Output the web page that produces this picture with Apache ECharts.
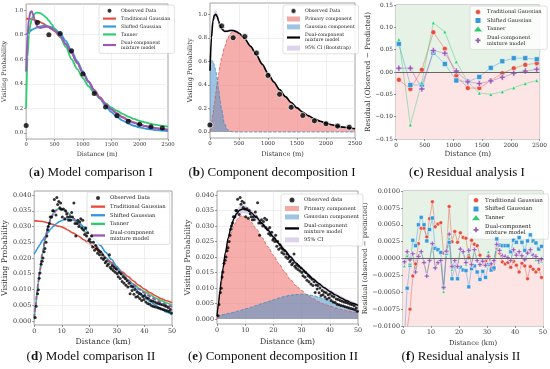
<!DOCTYPE html>
<html><head><meta charset="utf-8">
<script src="https://cdn.jsdelivr.net/npm/echarts@6/dist/echarts.min.js"></script>
<style>html,body{margin:0;padding:0;background:#fff}#c{width:550px;height:369px}</style>
</head><body><div id="c"></div>
<script>
// ---------- DATA ----------
const xTicksI = [0, 500, 1000, 1500, 2000, 2500];
const xTicksII = [0, 10, 20, 30, 40, 50];
const yTicksProbI = [0, 0.2, 0.4, 0.6, 0.8, 1.0];
const yTicksResI = [-0.15, -0.10, -0.05, 0, 0.05, 0.10, 0.15];
const yTicksProbII = [0, 0.005, 0.010, 0.015, 0.020, 0.025, 0.030, 0.035, 0.040];
const yTicksResII = [-0.01, -0.0075, -0.005, -0.0025, 0, 0.0025, 0.005, 0.0075, 0.01];

// Panel a/b observed
const obsDistI = [0, 200, 400, 600, 800, 1000, 1200, 1400, 1600, 1800, 2000, 2200, 2400];
const obsProbI = [0.06, 0.90, 0.80, 0.81, 0.67, 0.48, 0.32, 0.21, 0.14, 0.095, 0.07, 0.05, 0.04];

// Panel a/b curves
const cxI = [0,25,50,75,100,125,150,175,200,250,300,350,400,450,500,600,700,800,900,1000,1100,1200,1300,1400,1500,1600,1700,1800,1900,2000,2100,2200,2300,2400,2500];
const tgI = [0.930,0.930,0.929,0.928,0.926,0.923,0.920,0.916,0.912,0.902,0.890,0.876,0.860,0.845,0.830,0.780,0.720,0.650,0.570,0.490,0.420,0.350,0.290,0.240,0.195,0.160,0.130,0.105,0.085,0.068,0.055,0.045,0.037,0.030,0.025];
const sgI = [0.800,0.810,0.820,0.830,0.840,0.845,0.850,0.855,0.860,0.868,0.872,0.872,0.868,0.860,0.848,0.810,0.750,0.665,0.585,0.500,0.420,0.345,0.280,0.220,0.170,0.130,0.100,0.076,0.058,0.045,0.035,0.028,0.022,0.018,0.015];
const taI = [0.20,0.62,0.80,0.88,0.93,0.955,0.970,0.978,0.980,0.975,0.960,0.940,0.915,0.885,0.850,0.780,0.700,0.600,0.520,0.445,0.380,0.325,0.280,0.240,0.207,0.180,0.155,0.133,0.114,0.098,0.085,0.074,0.065,0.057,0.050];
const dmI = [0.50,0.80,0.93,0.985,0.990,0.960,0.920,0.885,0.865,0.855,0.860,0.865,0.862,0.850,0.835,0.790,0.725,0.650,0.570,0.490,0.415,0.345,0.285,0.235,0.190,0.155,0.125,0.100,0.082,0.067,0.055,0.045,0.037,0.031,0.026];
const mixI = [0.52,0.80,0.94,0.99,1.00,0.98,0.94,0.90,0.875,0.855,0.855,0.862,0.862,0.853,0.838,0.790,0.727,0.653,0.575,0.497,0.425,0.360,0.300,0.250,0.205,0.168,0.137,0.112,0.091,0.074,0.061,0.050,0.041,0.034,0.028];
const primI = [0,0.07,0.15,0.24,0.33,0.42,0.50,0.57,0.63,0.72,0.79,0.835,0.855,0.850,0.836,0.790,0.727,0.653,0.575,0.497,0.425,0.360,0.300,0.250,0.205,0.168,0.137,0.112,0.091,0.074,0.061,0.050,0.041,0.034,0.028];
const gsI = [0.60,0.605,0.60,0.57,0.52,0.45,0.36,0.27,0.19,0.07,0.02,0.005,0,0,0,0,0,0,0,0,0,0,0,0,0,0,0,0,0,0,0,0,0,0,0];
const ciHalfI = [0.03,0.03,0.03,0.03,0.035,0.03,0.025,0.02,0.015,0.012,0.01,0.01,0.01,0.01,0.01,0.01,0.01,0.01,0.01,0.01,0.009,0.009,0.008,0.008,0.007,0.007,0.006,0.006,0.005,0.005,0.005,0.004,0.004,0.004,0.004];

// Panel c residuals
const resDistI = [50, 250, 450, 650, 850, 1050, 1250, 1450, 1650, 1850, 2050, 2250, 2450];
const resTGI = [-0.0175,-0.038,0.005,0.089,0.052,-0.008,-0.036,-0.036,-0.019,-0.003,0.0085,0.016,0.0197];
const resSGI = [0.063,-0.029,-0.029,0.0435,0.018,-0.019,-0.022,-0.011,0.0093,0.024,0.031,0.031,0.0286];
const resTaI = [0.073,-0.118,-0.023,0.110,0.090,0.023,-0.022,-0.047,-0.050,-0.044,-0.035,-0.026,-0.019];
const resDMI = [0.0086,0.0086,-0.038,0.048,0.042,0.002,-0.022,-0.026,-0.020,-0.012,-0.003,0.002,0.006];

// Panel d/e observed
const obsKmII = [0.36,0.7,1.2,1.5,1.8,2.1,2.5,2.9,3.2,3.6,3.9,4.3,4.6,4.9,5.1,5.5,5.8,6.3,6.7,7.0,7.3,7.9,8.2,8.5,8.9,9.3,9.6,9.9,10.2,10.6,11.1,11.4,11.8,12.1,12.5,12.9,13.2,13.6,13.9,14.4,14.8,15.1,15.5,15.8,16.2,16.5,16.9,17.3,17.6,18.0,18.3,18.7,19.0,19.4,19.8,20.1,20.5,20.8,21.2,21.5,21.9,22.3,22.6,23.0,23.3,23.7,24.0,24.4,24.8,25.1,25.5,25.8,26.2,26.5,26.9,27.3,27.6,28.0,28.3,28.7,29.0,29.4,29.8,30.1,30.5,30.8,31.2,31.5,31.9,32.3,32.6,33.0,33.3,33.7,34.0,34.4,34.8,35.1,35.5,35.8,36.2,36.5,36.9,37.3,37.6,38.0,38.3,38.7,39.0,39.4,39.8,40.1,40.5,40.8,41.2,41.5,41.9,42.3,42.6,43.0,43.3,43.7,44.0,44.4,44.8,45.1,45.5,45.8,46.2,46.5,46.9,47.3,47.6,48.0,48.3,48.7,49.0,49.4,49.8];
const obsProbII = [0.0011,0.0047,0.0086,0.0099,0.0136,0.0152,0.018,0.019,0.020,0.022,0.023,0.025,0.027,0.029,0.030,0.031,0.033,0.033,0.035,0.035,0.0386,0.0337,0.0392,0.037,0.038,0.036,0.0375,0.0355,0.033,0.0356,0.0325,0.035,0.034,0.033,0.032,0.033,0.032,0.0345,0.033,0.0375,0.031,0.027,0.031,0.032,0.030,0.0315,0.0325,0.0295,0.032,0.029,0.0275,0.0295,0.027,0.028,0.0255,0.026,0.025,0.027,0.0235,0.025,0.0225,0.024,0.023,0.0215,0.0225,0.021,0.022,0.020,0.021,0.0195,0.020,0.0185,0.019,0.0175,0.018,0.021,0.017,0.0165,0.0175,0.016,0.017,0.0155,0.0165,0.015,0.014,0.0155,0.0135,0.015,0.0125,0.014,0.012,0.0135,0.0113,0.0128,0.0108,0.012,0.0086,0.011,0.0097,0.0108,0.0085,0.010,0.0076,0.0092,0.0078,0.0087,0.0071,0.0085,0.0065,0.0078,0.0068,0.0081,0.006,0.0074,0.0055,0.0071,0.0053,0.0065,0.0048,0.0063,0.0046,0.006,0.0044,0.0057,0.0042,0.0055,0.004,0.0053,0.0038,0.0051,0.0036,0.0048,0.0034,0.0046,0.0032,0.0043,0.003,0.0036,0.0025];

// Panel d/e curves
const cxII = [0,0.5,1,1.5,2,3,4,5,6,7,8,9,10,11,12,14,16,18,20,22,24,26,28,30,32,34,36,38,40,42,44,46,48,50];
const tgII = [0.0318,0.0318,0.0318,0.0317,0.0317,0.0316,0.0314,0.0312,0.0309,0.0306,0.0303,0.0301,0.0299,0.0295,0.0290,0.0280,0.0270,0.0258,0.0246,0.0232,0.0217,0.0201,0.0186,0.0170,0.0155,0.0141,0.0127,0.0113,0.0101,0.0090,0.0080,0.0071,0.0064,0.0058];
const sgII = [0.0212,0.0220,0.0228,0.0235,0.0242,0.0256,0.0269,0.0281,0.0292,0.0301,0.0309,0.0315,0.0319,0.0322,0.0323,0.0321,0.0314,0.0299,0.0280,0.0260,0.0240,0.0218,0.0196,0.0173,0.0150,0.0129,0.0110,0.0092,0.0076,0.0062,0.0050,0.0038,0.0028,0.0020];
const taII = [0.0005,0.0045,0.0085,0.0122,0.0156,0.0214,0.0262,0.0298,0.0325,0.0343,0.0353,0.0357,0.0356,0.0352,0.0345,0.0328,0.0308,0.0286,0.0264,0.0242,0.0221,0.0200,0.0181,0.0163,0.0146,0.0131,0.0117,0.0104,0.0093,0.0083,0.0073,0.0065,0.0057,0.0050];
const dmII = [0.0010,0.0048,0.0088,0.0125,0.0158,0.0215,0.0262,0.0297,0.0324,0.0341,0.0351,0.0355,0.0354,0.0350,0.0344,0.0328,0.0308,0.0287,0.0265,0.0243,0.0222,0.0201,0.0181,0.0163,0.0146,0.0130,0.0115,0.0101,0.0089,0.0078,0.0068,0.0059,0.0051,0.0044];
const gsII = [0.0010,0.0011,0.0012,0.0013,0.0014,0.0016,0.0018,0.0020,0.0022,0.0025,0.0027,0.0030,0.0033,0.0035,0.0038,0.0044,0.0050,0.0056,0.0062,0.0068,0.0073,0.0077,0.0079,0.0080,0.0079,0.0076,0.0071,0.0065,0.0058,0.0051,0.0044,0.0037,0.0030,0.0024];
const primII = [0.0000,0.0037,0.0076,0.0112,0.0144,0.0199,0.0244,0.0277,0.0302,0.0320,0.0330,0.0333,0.0330,0.0323,0.0314,0.0290,0.0262,0.0234,0.0206,0.0178,0.0152,0.0128,0.0108,0.0092,0.0078,0.0066,0.0056,0.0048,0.0042,0.0036,0.0031,0.0027,0.0023,0.0020];
const ciHalfII = [0.0003,0.0004,0.0005,0.0006,0.0007,0.0008,0.0009,0.0010,0.0011,0.0012,0.0013,0.0013,0.0012,0.0011,0.0010,0.0009,0.0008,0.0008,0.0007,0.0007,0.0007,0.0007,0.0006,0.0006,0.0006,0.0006,0.0006,0.0006,0.0006,0.0006,0.0006,0.0006,0.0006,0.0006];

// Panel f residuals
const resKmII = [0.5,1.5,2.5,3.5,4.5,5.5,6.5,7.5,8.5,9.5,10.5,11.5,12.5,13.5,14.5,15.5,16.5,17.5,18.5,19.5,20.5,21.5,22.5,23.5,24.5,25.5,26.5,27.5,28.5,29.5,30.5,31.5,32.5,33.5,34.5,35.5,36.5,37.5,38.5,39.5,40.5,41.5,42.5,43.5,44.5,45.5,46.5,47.5,48.5,49.5];
const resTGII = [-0.0130,-0.0104,-0.0075,-0.0026,-0.0008,0.0022,0.0045,0.0045,0.0032,0.0059,0.0084,0.0047,0.0051,0.0053,0.0008,0.0008,0.0077,0.0025,0.0040,0.0024,0.0038,0.0031,0.0030,0.0001,0.0027,0.0021,0.0019,0.0005,-0.0008,-0.0004,0.0004,-0.0012,-0.0016,0.0014,0.0008,-0.0005,-0.0008,-0.0006,-0.0013,-0.0004,-0.0010,-0.0020,-0.0007,-0.0011,-0.0030,-0.0012,-0.0016,-0.0020,-0.0016,-0.0028];
const resSGII = [-0.0120,-0.0044,-0.0010,0.0027,0.0019,0.0050,0.0061,0.0050,0.0026,0.0043,0.0060,0.0015,0.0013,0.0009,-0.0043,0.0008,0.0024,-0.0030,-0.0012,-0.0030,-0.0013,-0.0017,-0.0018,-0.0042,-0.0015,-0.0011,-0.0020,-0.0031,-0.0019,-0.0028,-0.0009,-0.0017,-0.0014,0.0029,0.0020,0.0019,0.0019,0.0019,0.0010,0.0027,0.0024,0.0031,0.0024,0.0012,0.0026,0.0035,0.0026,0.0023,0.0014,0.0018];
const resTaII = [-0.0011,0.0004,-0.0008,0.0005,-0.0020,0.0003,0.0011,-0.0006,-0.0024,-0.0003,0.0020,-0.0014,-0.0005,-0.0002,-0.0049,0.0010,0.0030,-0.0016,-0.0004,-0.0013,0.0012,0.0009,-0.0009,0.0010,-0.0010,0.0011,-0.0004,-0.0010,-0.0005,-0.0011,0.0010,-0.0005,-0.0001,0.0015,0.0011,0.0006,0.0004,0.0002,-0.0001,0.0014,0.0004,0.0006,0.0002,-0.0002,0.0008,0.0010,0.0002,-0.0002,-0.0006,-0.0004];
const resDMII = [-0.0005,0.0010,-0.0002,0.0007,-0.0020,0.0003,0.0010,-0.0006,-0.0026,-0.0003,0.0022,-0.0014,-0.0006,-0.0003,-0.0043,0.0011,0.0036,-0.0012,-0.0003,-0.0012,0.0014,0.0010,-0.0006,0.0012,-0.0009,0.0013,-0.0003,-0.0009,-0.0004,-0.0010,0.0003,-0.0008,-0.0003,0.0021,0.0012,0.0004,0.0003,0.0001,-0.0003,0.0013,0.0005,0.0010,0.0004,-0.0002,0.0008,0.0013,0.0005,0.0003,-0.0003,-0.0001];

const captions = [
  ['a', 'Model comparison I'], ['b', 'Component decomposition I'], ['c', 'Residual analysis I'],
  ['d', 'Model comparison II'], ['e', 'Component decomposition II'], ['f', 'Residual analysis II']
];

// ---------- LAYOUT / STYLE ----------
const SERIF = 'DejaVu Serif';
const CAP = 'Liberation Serif';
const COL = {tg:'#e74c3c', sg:'#3498db', ta:'#2ecc71', dm:'#9b59b6'};
const PLUS = 'path://M3,0H6V3H9V6H6V9H3V6H0V3H3Z';
const LINE_ICON = 'path://M0,0H24V4H0Z';
const zip = (xs, ys) => xs.map((x, i) => [x, ys[i]]);

const L = [
  {left:25, top:4, width:143, height:135, tick:5.3, nm:6.3, capX:91, capY:166,
   x:[0,2500,500,xTicksI,'Distance (m)',9], y:[-0.05,1.05,0.2,yTicksProbI,1,'Visiting Probability',16]},
  {left:210, top:3, width:145, height:135, tick:5.5, nm:6.6, capX:272, capY:166,
   x:[0,2500,500,xTicksI,'Distance (m)',9], y:[-0.051,1.095,0.2,yTicksProbI,1,'Visiting Probability',13]},
  {left:396, top:5, width:146, height:134, tick:5.8, nm:7.2, capX:467, capY:166,
   x:[0,2500,500,xTicksI,'Distance (m)',8], y:[-0.15,0.15,0.05,yTicksResI,2,'Residual (Observed \u2212 Predicted)',21]},
  {left:32, top:191, width:140, height:134, tick:6.4, nm:7.8, capX:91, capY:350,
   x:[0,50,10,xTicksII,'Distance (km)',9], y:[-0.0013,0.0413,0.005,yTicksProbII,3,'Visiting Probability',19]},
  {left:217, top:191, width:141, height:133, tick:6.4, nm:7.8, capX:273, capY:350,
   x:[0,50,10,xTicksII,'Distance (km)',10], y:[-0.0016,0.0413,0.005,yTicksProbII,3,'Visiting Probability',19]},
  {left:403, top:191, width:141, height:135, tick:6.4, nm:6.8, capX:461, capY:350,
   x:[0,50,10,xTicksII,'Distance (km)',10], y:[-0.01,0.01,0.0025,yTicksResII,4,'Residual (observed \u2212 predicted)',28]}
];

const grids = L.map(p => ({left:p.left, top:p.top, width:p.width, height:p.height, show:true,
  borderColor:'#8c8c8c', borderWidth:0.8, backgroundColor:'#fff', containLabel:false}));

const fmt = (v, d) => { let s = (Math.abs(v) < 1e-12 ? 0 : v).toFixed(d); return s.replace('-', '\u2212'); };

const xAxes = L.map((p, i) => ({
  type:'value', gridIndex:i, min:p.x[0], max:p.x[1], minInterval:p.x[2], maxInterval:p.x[2],
  name:p.x[4], nameLocation:'middle', nameGap:p.x[5] + p.nm * 0.5,
  nameTextStyle:{fontFamily:SERIF, fontSize:p.nm, color:'#333'},
  axisLine:{show:false, onZero:false},
  axisTick:{show:true, length:2, customValues:p.x[3], lineStyle:{color:'#555', width:0.6}},
  axisLabel:{fontFamily:SERIF, fontSize:p.tick, color:'#333', margin:3, customValues:p.x[3],
             formatter: v => String(Math.round(v))},
  splitLine:{show:true, showMinLine:false, showMaxLine:false, lineStyle:{color:'#e6e6e6', width:0.6}}
}));
const yAxes = L.map((p, i) => ({
  type:'value', gridIndex:i, min:p.y[0], max:p.y[1], minInterval:p.y[2], maxInterval:p.y[2],
  name:p.y[5], nameLocation:'middle', nameRotate:90, nameGap:p.y[6] + p.nm * 0.5,
  nameTextStyle:{fontFamily:SERIF, fontSize:p.nm, color:'#333'},
  axisLine:{show:false},
  axisTick:{show:true, length:2, customValues:p.y[3], lineStyle:{color:'#555', width:0.6}},
  axisLabel:{fontFamily:SERIF, fontSize:p.tick, color:'#333', margin:3, customValues:p.y[3],
             formatter: v => fmt(v, p.y[4])},
  splitLine:{show:true, showMinLine:false, showMaxLine:false, lineStyle:{color:'#e6e6e6', width:0.6}}
}));

const titles = captions.map((c, i) => ({
  text:'{p|(}{b|' + c[0] + '}{p|) ' + c[1] + '}', left:L[i].capX, top:L[i].capY, textAlign:'center', padding:0,
  textStyle:{fontWeight:'normal', rich:{p:{fontFamily:CAP, fontSize:13, fontWeight:'normal', color:'#111'},
    b:{fontFamily:CAP, fontSize:13, fontWeight:'bold', color:'#111'}}}
}));

const series = [];
const ax = i => ({xAxisIndex:i, yAxisIndex:i});
function curve(i, name, xs, ys, color, width, extra) {
  series.push(Object.assign({type:'line', name, ...ax(i), data:zip(xs, ys), symbol:'none', smooth:0.3,
    smoothMonotone:'x', lineStyle:{color, width}, itemStyle:{color}, z:3}, extra || {}));
}
function scatter(i, name, xs, ys, size, border) {
  series.push({type:'scatter', name, ...ax(i), data:zip(xs, ys), symbol:'circle', symbolSize:size,
    itemStyle:{color:'#000', borderColor:'#fff', borderWidth:border}, z:6});
}
function resid(i, name, xs, ys, color, symbol, size) {
  series.push({type:'line', name, ...ax(i), data:zip(xs, ys), symbol, symbolSize:size, showSymbol:true,
    lineStyle:{color, width:0.8, opacity:0.55}, itemStyle:{color, borderColor:'#fff', borderWidth:0.5}, z:4});
}
function shade(i, ymin, ymax) {
  series.push({type:'line', ...ax(i), data:[], symbol:'none', silent:true, z:1,
    markArea:{silent:true, data:[
      [{yAxis:0, itemStyle:{color:'#e5f2e5'}}, {yAxis:ymax}],
      [{yAxis:ymin, itemStyle:{color:'#fde5e5'}}, {yAxis:0}]]},
    markLine:{silent:true, symbol:'none', label:{show:false},
      lineStyle:{color:'#666', width:1, type:'solid'}, data:[{yAxis:0}]}});
}
// confidence band drawn as a polygon through the axis scales
function band(i, name, xs, mid, half, color) {
  series.push({type:'custom', name, ...ax(i), data:[[xs[0], mid[0]]], z:2, silent:true,
    itemStyle:{color},
    renderItem: (params, api) => {
      const up = xs.map((x, k) => api.coord([x, mid[k] + half[k]]));
      const lo = xs.map((x, k) => api.coord([x, mid[k] - half[k]])).reverse();
      return {type:'polygon', shape:{points:up.concat(lo)}, style:{fill:color}};
    }});
}
function compArea(i, name, xs, ys, fill, edge) {
  series.push({type:'line', name, ...ax(i), data:zip(xs, ys), symbol:'none', smooth:0.3, smoothMonotone:'x',
    lineStyle:{color:edge, width:0.8, type:'dashed'}, areaStyle:{color:fill, opacity:1}, itemStyle:{color:edge}, z:2});
}

// a
curve(0, 'Traditional Gaussian', cxI, tgI, COL.tg, 1.8);
curve(0, 'Shifted Gaussian', cxI, sgI, COL.sg, 1.8);
curve(0, 'Tanner', cxI, taI, COL.ta, 1.8);
curve(0, 'Dual-component\nmixture model', cxI, dmI, COL.dm, 2);
scatter(0, 'Observed Data', obsDistI, obsProbI, 5, 0);
// b
compArea(1, 'Primary component', cxI, primI, 'rgba(238,120,115,0.6)', '#d9534f');
compArea(1, 'Gaussian component', cxI, gsI, 'rgba(60,140,200,0.5)', '#3a8cc8');
band(1, '95% CI (Bootstrap)', cxI, mixI, ciHalfI, 'rgba(185,165,215,0.5)');
curve(1, 'Dual-component\nmixture model ', cxI, mixI, '#000', 1.6, {z:5});
scatter(1, 'Observed Data', obsDistI, obsProbI, 6, 0.9);
// c
shade(2, -0.15, 0.15);
resid(2, 'Traditional Gaussian ', resDistI, resTGI, COL.tg, 'circle', 5);
resid(2, 'Shifted Gaussian ', resDistI, resSGI, COL.sg, 'rect', 5);
resid(2, 'Tanner ', resDistI, resTaI, COL.ta, 'triangle', 4);
resid(2, 'Dual-component\nmixture model  ', resDistI, resDMI, COL.dm, PLUS, 6);
// d
curve(3, 'Traditional Gaussian', cxII, tgII, COL.tg, 1.6);
curve(3, 'Shifted Gaussian', cxII, sgII, COL.sg, 1.6);
curve(3, 'Tanner', cxII, taII, COL.ta, 1.6);
curve(3, 'Dual-component\nmixture model', cxII, dmII, COL.dm, 1.8, {lineStyle:{color:COL.dm, width:1.8, type:[4,2]}});
scatter(3, 'Observed Data', obsKmII, obsProbII, 3, 0);
// e
compArea(4, 'Primary component', cxII, primII, 'rgba(238,120,115,0.6)', '#d9534f');
compArea(4, 'Gaussian component', cxII, gsII, 'rgba(60,140,200,0.5)', '#3a8cc8');
band(4, '95% CI', cxII, dmII, ciHalfII, 'rgba(185,165,215,0.55)');
curve(4, 'Dual-component\nmixture model ', cxII, dmII, '#000', 1.4, {z:5});
scatter(4, 'Observed data', obsKmII, obsProbII, 3, 0);
// f
shade(5, -0.01, 0.01);
resid(5, 'Traditional Gaussian ', resKmII, resTGII, COL.tg, 'circle', 4);
resid(5, 'Shifted Gaussian ', resKmII, resSGII, COL.sg, 'rect', 4);
resid(5, 'Tanner ', resKmII, resTaII, COL.ta, 'triangle', 3.5);
resid(5, 'Dual-component\nmixture model  ', resKmII, resDMII, COL.dm, PLUS, 5);

// legends
const legBase = (left, top, fs, data, iw, ih) => ({
  left, top, orient:'vertical', data, itemWidth:iw, itemHeight:ih, itemGap:2.5, selectedMode:false,
  backgroundColor:'rgba(255,255,255,0.85)', borderColor:'#cfcfcf', borderWidth:0.6, borderRadius:2,
  padding:[3,4,3,4], textStyle:{fontFamily:SERIF, fontSize:fs, color:'#222', lineHeight:fs * 1.15}, symbolKeepAspect:true
});
const obsIcon = (name, border) => ({name, icon:'circle', itemStyle:{color:'#000', borderColor:'#fff', borderWidth:border}});
const rectIcon = (name, color) => ({name, icon:'rect', itemStyle:{color, borderWidth:0}});
const lineIcon = (name, color) => ({name, icon:LINE_ICON, itemStyle:{color, borderWidth:0}});
const lineItems = () => [
  lineIcon('Traditional Gaussian', COL.tg), lineIcon('Shifted Gaussian', COL.sg), lineIcon('Tanner', COL.ta),
  lineIcon('Dual-component\nmixture model', COL.dm)];
const resItems = [
  {name:'Traditional Gaussian ', icon:'circle', itemStyle:{color:COL.tg, borderColor:'#fff', borderWidth:0.5}},
  {name:'Shifted Gaussian ', icon:'path://M0,0H1V1H0Z', itemStyle:{color:COL.sg, borderWidth:0}},
  {name:'Tanner ', icon:'triangle', itemStyle:{color:COL.ta, borderWidth:0}},
  {name:'Dual-component\nmixture model  ', icon:PLUS, itemStyle:{color:COL.dm, borderWidth:0}}];

const legends = [
  legBase(99, 5, 4.7, [obsIcon('Observed Data', 0)].concat(lineItems()), 13, 4),
  legBase(283, 5, 4.7, [obsIcon('Observed Data', 0.8), rectIcon('Primary component', '#f3a9a4'),
    rectIcon('Gaussian component', '#9dc5e3'), lineIcon('Dual-component\nmixture model ', '#000'),
    rectIcon('95% CI (Bootstrap)', '#dcd2ea')], 13, 5),
  legBase(470, 6, 5.2, resItems, 8, 5),
  legBase(87, 192, 5.3, [obsIcon('Observed Data', 0)].concat(lineItems()), 14, 4),
  legBase(281, 194, 5.2, [obsIcon('Observed data', 0), rectIcon('Primary component', '#f3a9a4'),
    rectIcon('Gaussian component', '#9dc5e3'), lineIcon('Dual-component\nmixture model ', '#000'),
    rectIcon('95% CI', '#dcd2ea')], 14, 5),
  legBase(468, 194, 5.5, resItems, 8, 5)
];

const chart = echarts.init(document.getElementById('c'));
chart.setOption({
  animation:false, backgroundColor:'#fff',
  title:titles, grid:grids, xAxis:xAxes, yAxis:yAxes, legend:legends, series
});
</script></body></html>
